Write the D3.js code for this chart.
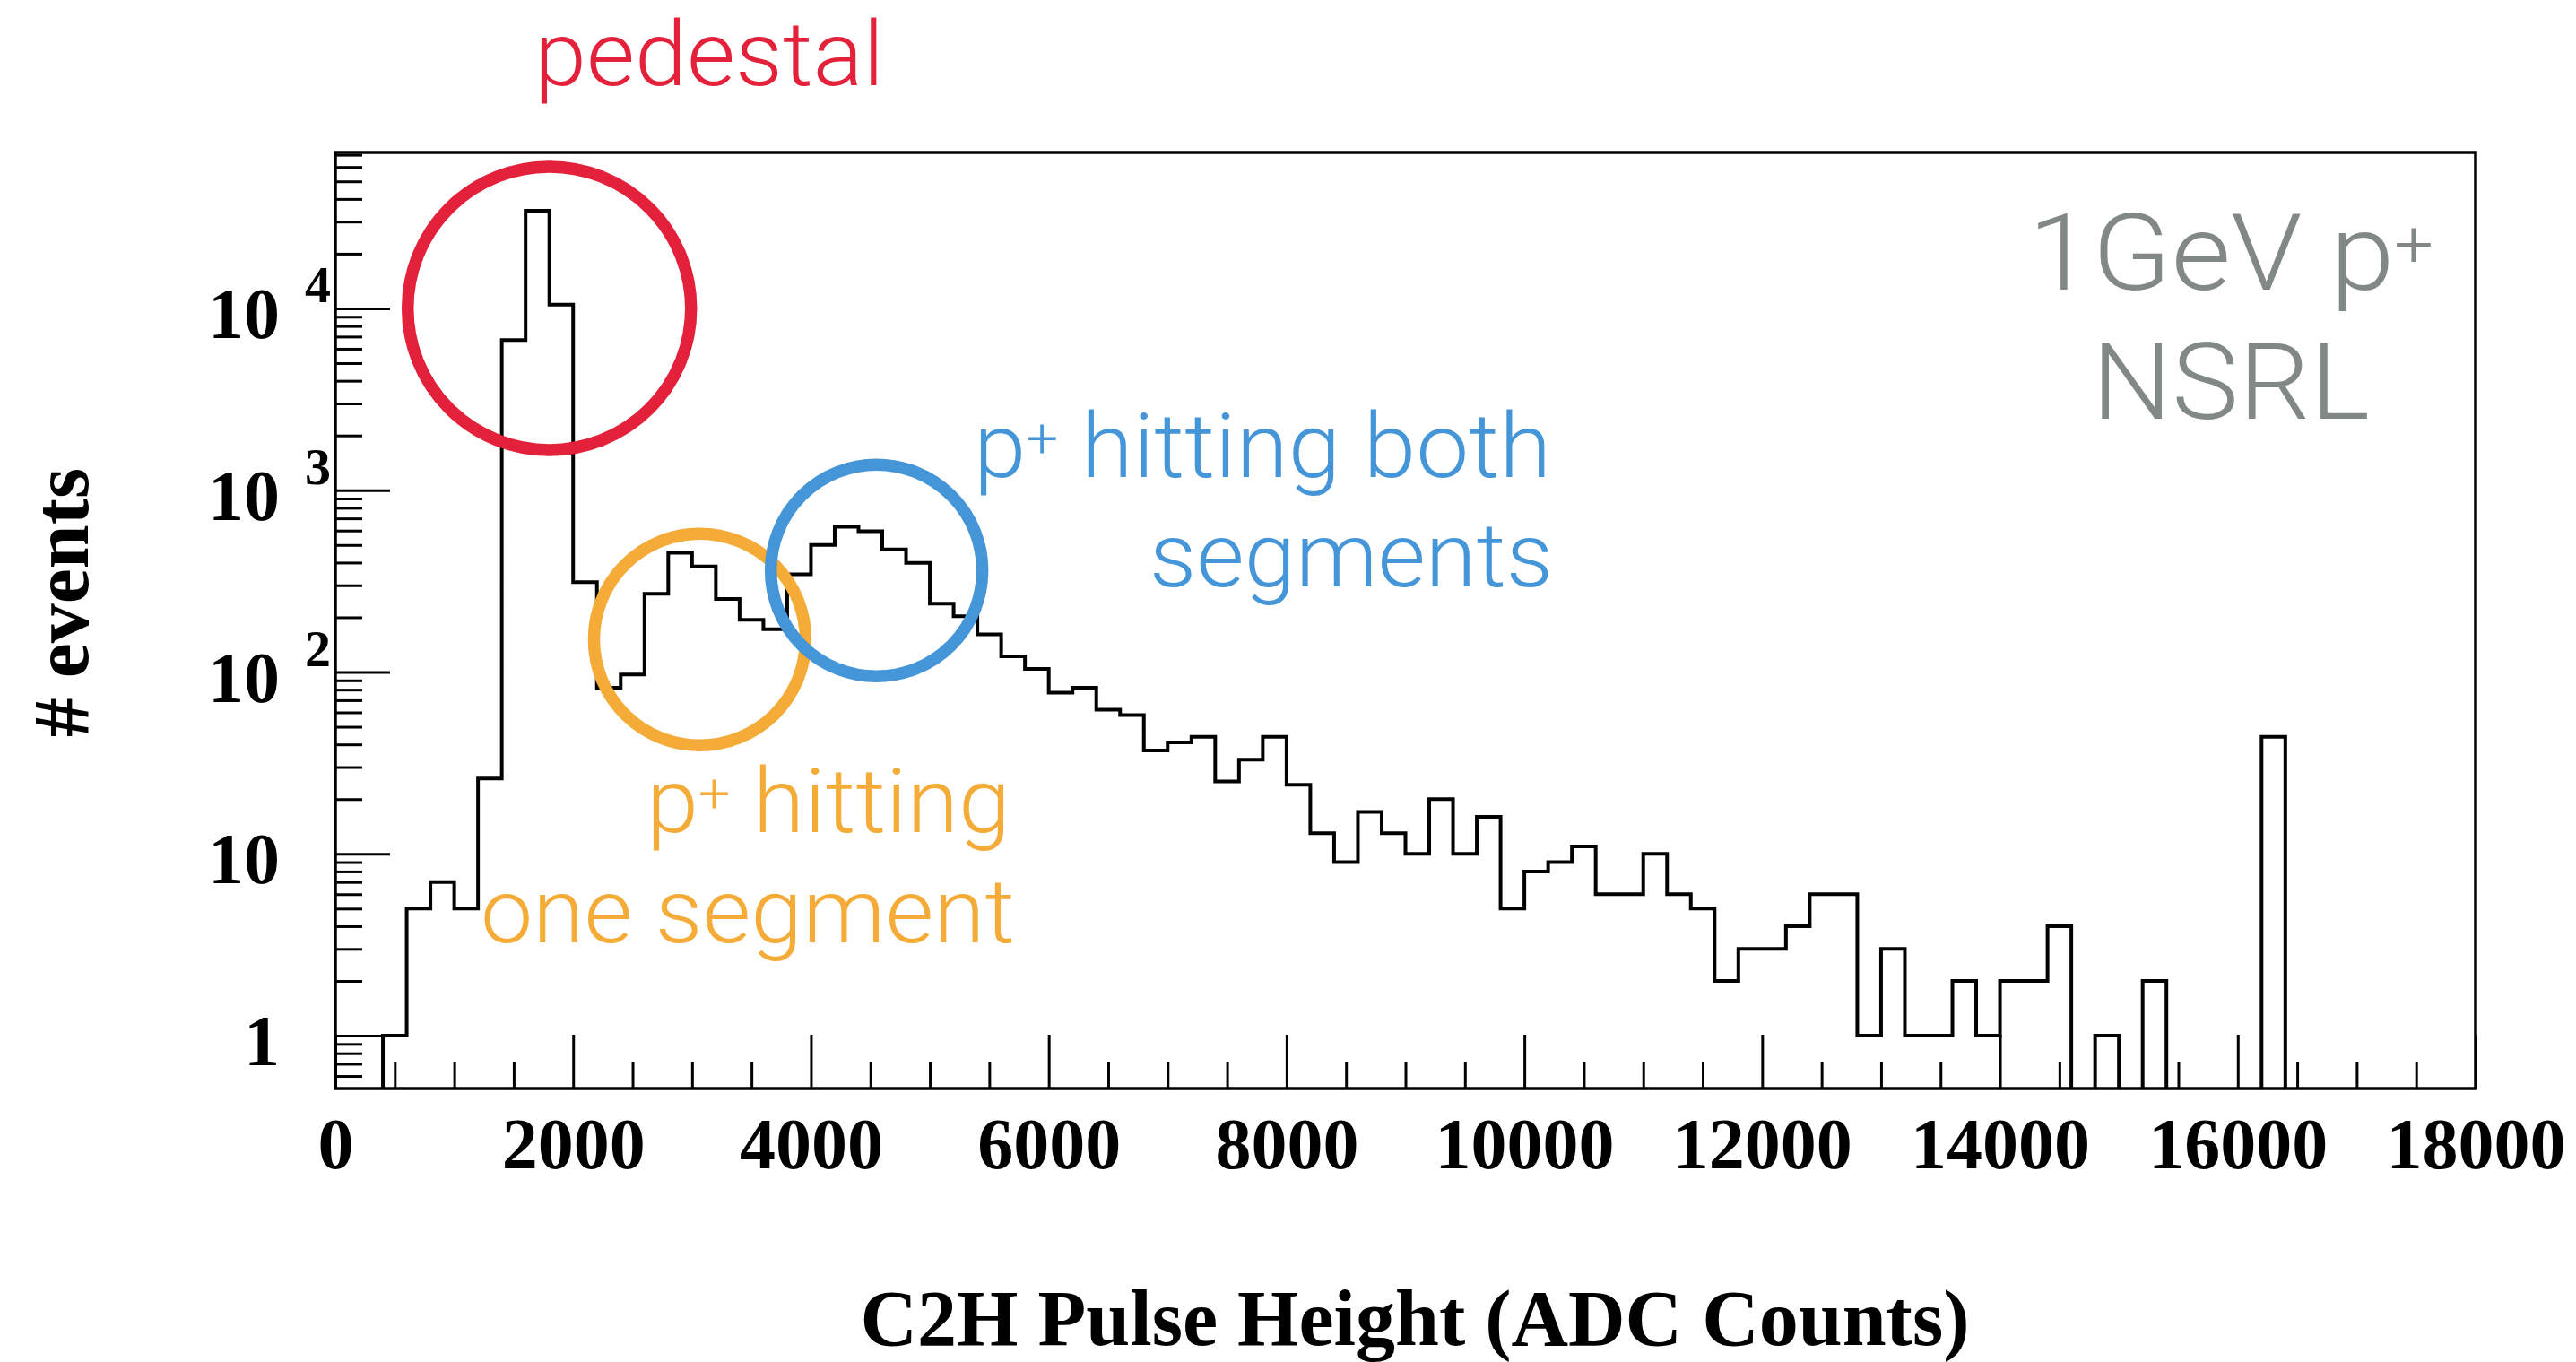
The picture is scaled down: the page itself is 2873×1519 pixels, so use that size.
<!DOCTYPE html>
<html><head><meta charset="utf-8">
<script src="https://cdn.jsdelivr.net/npm/d3@7"></script>
<style>
html,body{margin:0;padding:0;background:#fff;}
svg{display:block;}
</style></head>
<body>
<svg id="chart" width="2873" height="1519"></svg>
<script>
// ---------------- data ----------------
const binEdges = [0,200,400,600,800,1000,1200,1400,1600,1800,2000,2200,2400,2600,2800,3000,3200,3400,3600,3800,
  4000,4200,4400,4600,4800,5000,5200,5400,5600,5800,6000,6200,6400,6600,6800,7000,7200,7400,7600,7800,
  8000,8200,8400,8600,8800,9000,9200,9400,9600,9800,10000,10200,10400,10600,10800,11000,11200,11400,11600,11800,
  12000,12200,12400,12600,12800,13000,13200,13400,13600,13800,14000,14200,14400,14600,14800,15000,15200,15400,15600,15800,
  16000,16200,16400,16600,16800,17000,17200,17400,17600,17800,18000];
const counts = [0,0,1,5,7,5,26,6700,34500,10500,312,82,97,269,453,381,252,194,172,345,
  500,630,595,472,399,238,203,161,122,104,77,82,62,58,37,41,44,25,33,44,
  24,13,9,17,13,10,20,10,16,5,8,9,11,6,6,10,6,5,2,3,
  3,4,6,6,1,3,1,1,2,1,2,2,4,0,1,0,2,0,0,0,
  0,44,0,0,0,0,0,0,0,0];
const xTickValues = [0,2000,4000,6000,8000,10000,12000,14000,16000,18000];
const xTickLabels = ["0","2000","4000","6000","8000","10000","12000","14000","16000","18000"];
const yTickValues = [1,10,100,1000,10000];
const yTickBase = ["1","10","10","10","10"];
const yTickExp = ["","","2","3","4"];
const xTitle = "C2H Pulse Height (ADC Counts)";
const yTitle = "# events";
// annotation circles: centre in data units
const circleNames = ["pedestal","one","both"];
const circleX = [1800, 3065, 4552];
const circleY = [10000, 151, 362];

// ---------------- layout ----------------
const L = 374, R = 2761, T = 170, B = 1214;
const svg = d3.select("#chart");
const x = d3.scaleLinear().domain([0, 18000]).range([L, R]);
const y = d3.scaleLog().domain([0.512, 72100]).range([B, T]);
const tickFont = "'Liberation Serif','Times New Roman',serif";
const annFont = "Roboto, 'Helvetica Neue', Arial, sans-serif";

// clip
svg.append("defs").append("clipPath").attr("id","clip")
  .append("rect").attr("x",L).attr("y",T).attr("width",R-L).attr("height",B-T);

// histogram outline
const pts = counts.map((c,i)=>({e:binEdges[i], v:c}));
pts.push({e:binEdges[binEdges.length-1], v:counts[counts.length-1]});
const line = d3.line()
  .x(d=>x(d.e))
  .y(d=> d.v > 0 ? y(d.v) : B + 2)
  .curve(d3.curveStepAfter);
svg.append("path").datum(pts)
  .attr("clip-path","url(#clip)")
  .attr("d", line).attr("fill","none").attr("stroke","#000").attr("stroke-width",4)
  .attr("stroke-linejoin","miter");

// x axis ticks
const xMinor = d3.range(0, 18001, 500).filter(v => v % 2000 !== 0);
const gxMinor = svg.append("g").attr("transform",`translate(0,${B})`)
  .call(d3.axisBottom(x).tickValues(xMinor).tickSize(-30).tickFormat(""));
const gx = svg.append("g").attr("transform",`translate(0,${B})`)
  .call(d3.axisBottom(x).tickValues(xTickValues).tickSize(-60).tickPadding(32)
    .tickFormat((d,i)=>xTickLabels[i]));
[gxMinor, gx].forEach(g=>{
  g.select(".domain").remove();
  g.selectAll(".tick line").attr("stroke","#000").attr("stroke-width",3);
});
gx.selectAll(".tick text").attr("font-family",tickFont).attr("font-weight","bold")
  .attr("font-size",80).attr("fill","#000");

// y axis ticks
const yMinor = [];
[0.1,1,10,100,1000,10000].forEach(d=>{ for(let k=2;k<=9;k++){ const v=k*d; if(v>=0.512 && v<=72100) yMinor.push(v);} });
const gyMinor = svg.append("g").attr("transform",`translate(${L},0)`)
  .call(d3.axisLeft(y).tickValues(yMinor).tickSize(-30).tickFormat(""));
const gy = svg.append("g").attr("transform",`translate(${L},0)`)
  .call(d3.axisLeft(y).tickValues(yTickValues).tickSize(-61).tickFormat(""));
[gyMinor, gy].forEach(g=>{
  g.select(".domain").remove();
  g.selectAll(".tick line").attr("stroke","#000").attr("stroke-width",3);
});
const yl = svg.append("g").selectAll("g").data(yTickValues).join("g");
yl.append("text").attr("x",312).attr("y",d=>y(d)+33).attr("text-anchor","end")
  .attr("font-family",tickFont).attr("font-weight","bold").attr("font-size",80)
  .text((d,i)=>yTickBase[i]);
yl.append("text").attr("x",340).attr("y",d=>y(d)-7).attr("text-anchor","start")
  .attr("font-family",tickFont).attr("font-weight","bold").attr("font-size",58)
  .text((d,i)=>yTickExp[i]);

// frame
svg.append("rect").attr("x",L).attr("y",T).attr("width",R-L).attr("height",B-T)
  .attr("fill","none").attr("stroke","#000").attr("stroke-width",3.5);

// titles
svg.append("text").attr("x",1578).attr("y",1500).attr("text-anchor","middle")
  .attr("font-family",tickFont).attr("font-weight","bold").attr("font-size",88).text(xTitle);
svg.append("text").attr("transform","translate(98,672) rotate(-90)").attr("text-anchor","middle")
  .attr("font-family",tickFont).attr("font-weight","bold").attr("font-size",88).text(yTitle);

// annotation circles
const circleColor = {pedestal:"#E4213A", one:"#F4AB37", both:"#4596D8"};
const circleR = {pedestal:158, one:118, both:118};
svg.append("g").selectAll("circle").data(circleNames).join("circle")
  .attr("cx",(d,i)=>x(circleX[i])).attr("cy",(d,i)=>y(circleY[i]))
  .attr("r",d=>circleR[d]).attr("fill","none")
  .attr("stroke",d=>circleColor[d]).attr("stroke-width",13.5);

// annotation text (left edge, baseline, size, fitted width)
function annText(parts, xpos, ypos, size, width, color){
  const t = svg.append("text").attr("x",xpos).attr("y",ypos).attr("text-anchor","start")
    .attr("font-family",annFont).attr("font-weight",300).attr("font-size",size).attr("fill",color)
    .attr("textLength",width).attr("lengthAdjust","spacingAndGlyphs");
  let shift = 0;
  parts.forEach(p=>{
    if(p.sup){
      t.append("tspan").attr("font-size",size*0.6).attr("dy",-size*0.22).text(p.s);
      shift = size*0.22;
    } else {
      const s = t.append("tspan").text(p.s);
      if(shift){ s.attr("dy",shift); shift=0; }
    }
  });
  return t;
}
annText([{s:"pedestal"}], 596, 95, 101, 390, "#E4213A");
annText([{s:"p"},{s:"+",sup:true},{s:" hitting both"}], 1086, 532, 101, 644, "#4596D8");
annText([{s:"segments"}], 1282, 654, 101, 450, "#4596D8");
annText([{s:"p"},{s:"+",sup:true},{s:" hitting"}], 721, 928, 101, 406, "#F4AB37");
annText([{s:"one segment"}], 536, 1051, 101, 596, "#F4AB37");
annText([{s:"1GeV p"},{s:"+",sup:true}], 2262, 323, 119, 452, "#828885");
annText([{s:"NSRL"}], 2333, 467, 119, 310, "#828885");
</script>
</body></html>
